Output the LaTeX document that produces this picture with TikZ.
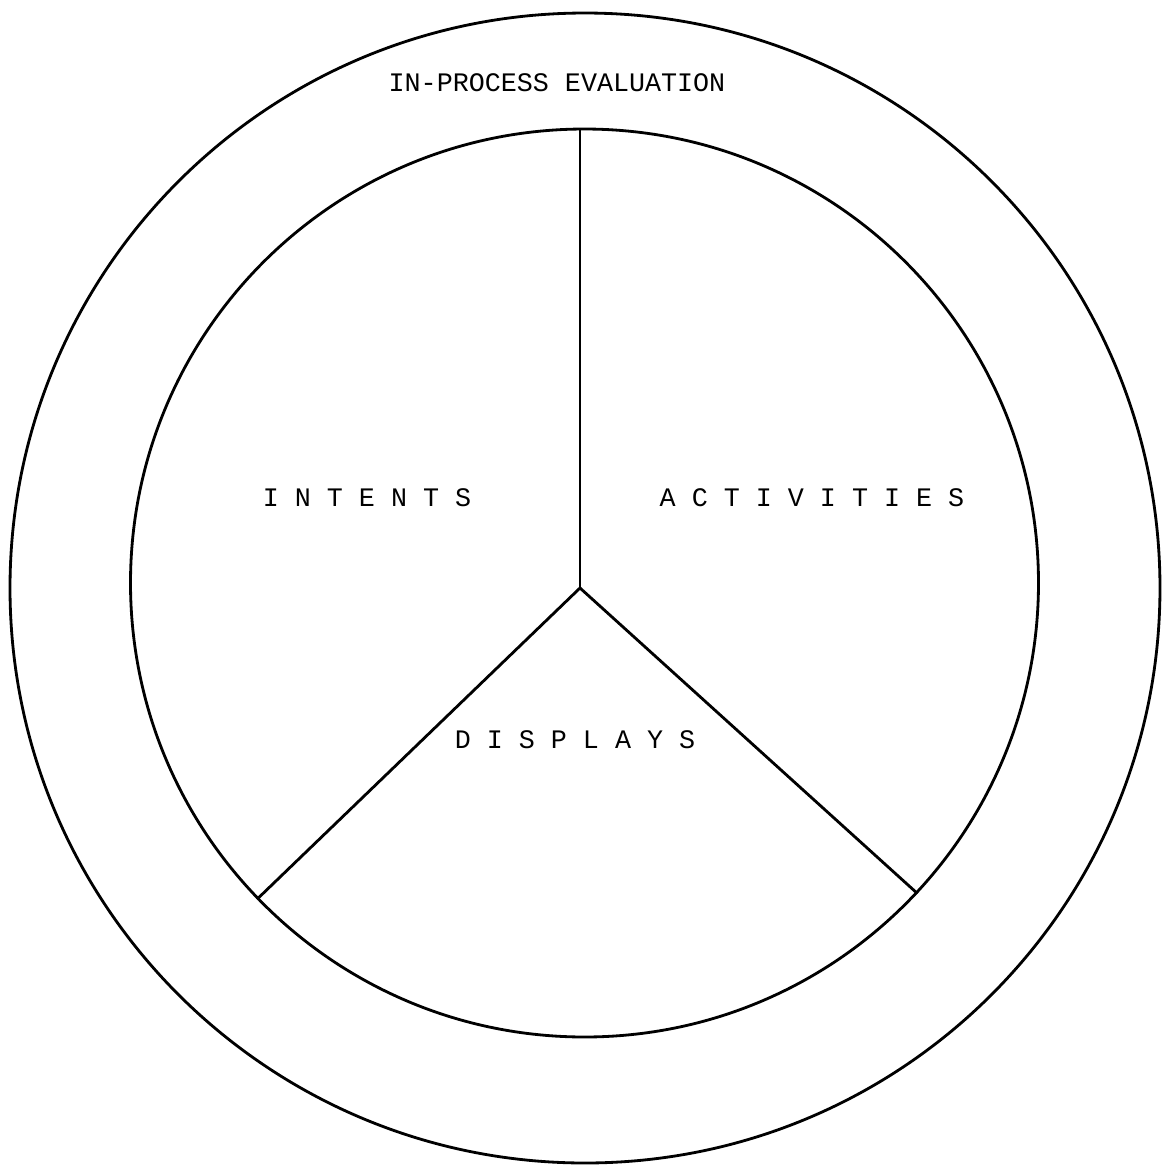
\documentclass[tikz,border=0pt]{standalone}
\usepackage{fontspec}
\newfontfamily\typewriter{Liberation Mono}
\usetikzlibrary{positioning}

\begin{document}
\begin{tikzpicture}[
    x=0.1mm, y=-0.1mm,
    ring/.style={circle, draw, line width=0.8pt, inner sep=0pt},
    spoke/.style={line width=0.8pt},
    lbl/.style={inner sep=0pt, font=\typewriter\fontsize{7.6}{9}\selectfont},
]
    \useasboundingbox (0,0) rectangle (1165,1167);
    \node[ring, minimum size=115mm] (outer) at (585,588) {};
    \node[ring, minimum size=90.8mm] (inner) at (584.5,583) {};
    \coordinate (hub) at (580,588);

    \draw[spoke] (hub) -- (hub |- inner.north);
    \draw[spoke] (hub) -- (inner.224);
    \draw[spoke] (hub) -- (inner.317);

    \node[lbl] (eval) at (557,83) {IN-PROCESS EVALUATION};
    \node[lbl] (intents) at (367,498) {I N T E N T S};
    \node[lbl] (activities) at (812,498) {A C T I V I T I E S};
    \node[lbl] (displays) at (575,740) {D I S P L A Y S};
\end{tikzpicture}
\end{document}
